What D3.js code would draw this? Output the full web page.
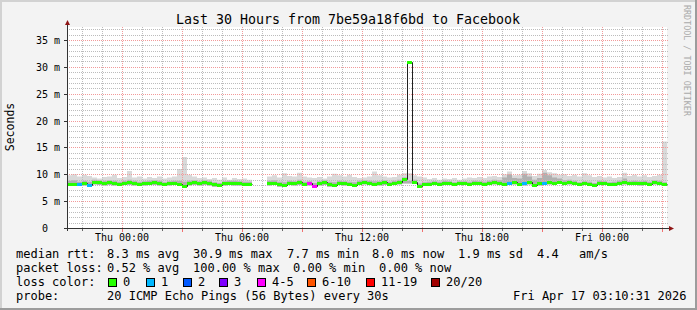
<!DOCTYPE html>
<html>
<head>
<meta charset="utf-8">
<script src="https://cdn.jsdelivr.net/npm/d3@7"></script>
<style>
body { margin: 0; background: #f3f3f3; }
svg text { font-family: "DejaVu Sans Mono", monospace; }
</style>
</head>
<body>
<div id="chart"></div>
<script>
var title = 'Last 30 Hours from 7be59a18f6bd to Facebook'
var yLabel = 'Seconds'
var watermark = 'RRDTOOL / TOBI OETIKER'
var start = new Date(2026, 3, 15, 21, 15)
var end = new Date(2026, 3, 17, 3, 15)
var stepMin = 15

// median rtt (ms), one value per 15 min, null = no data
var med = [8.2,8.2,8.1,8.3,8.0,8.6,8.5,8.4,8.5,8.3,8.2,8.4,8.5,8.4,8.2,8.3,8.4,8.5,8.4,8.1,8.3,8.4,8.2,7.9,
  8.4,8.5,8.3,8.5,8.4,8.1,8.0,8.3,8.4,8.4,8.3,8.2,8.2,null,null,null,
  8.3,8.4,8.1,8.0,8.4,8.3,8.5,8.2,8.3,7.9,8.3,8.5,8.1,8.0,8.4,8.3,8.2,8.0,8.4,8.5,8.4,8.2,8.3,8.5,8.2,8.4,8.6,9.1,30.9,
  8.6,7.9,8.1,8.2,8.3,8.2,8.4,8.3,8.1,8.3,8.3,8.2,8.4,8.3,8.2,8.4,8.5,8.3,8.2,8.4,8.5,8.1,8.3,8.5,8.0,8.3,8.4,8.5,8.4,8.6,
  8.3,8.5,8.4,8.1,8.3,8.2,8.0,8.4,8.3,8.1,8.2,8.4,8.5,8.3,8.4,8.3,8.4,8.2,8.5,8.4,8.1]

// fastest ping (ms)
var lo = [7.9,7.9,7.8,7.9,7.7,8.1,8.0,7.9,8.0,7.9,7.8,8.0,8.0,7.9,7.8,7.9,8.0,8.0,7.9,7.8,7.9,8.0,7.8,7.6,
  7.9,8.0,7.9,8.0,7.9,7.7,7.7,7.9,8.0,7.9,7.9,7.8,7.8,null,null,null,
  7.9,8.0,7.7,7.7,8.0,7.9,8.0,7.8,7.9,7.6,7.9,8.0,7.7,7.7,8.0,7.9,7.8,7.7,8.0,8.1,8.0,7.8,7.9,8.0,7.8,8.0,8.1,8.3,8.3,
  8.2,7.6,7.8,7.9,8.0,7.9,8.0,8.0,7.8,8.0,8.0,7.9,8.1,8.0,7.9,8.0,8.1,8.0,7.9,8.0,8.1,7.8,7.9,8.1,7.7,7.9,8.0,8.1,8.0,8.2,
  8.0,8.1,8.0,7.8,8.0,7.9,7.7,8.0,8.0,7.8,7.9,8.0,8.1,8.0,8.0,7.9,8.0,7.9,8.1,8.0,7.8]

// slowest ping (ms)
var hi = [9.8,10.0,9.6,9.9,9.7,9.4,9.2,9.5,9.6,9.9,9.3,9.5,10.6,9.4,9.6,9.2,9.5,9.3,9.6,9.2,9.4,9.6,11.0,13.2,
  9.9,9.6,9.3,9.4,9.1,9.3,9.0,9.4,9.0,9.3,9.1,9.2,9.0,null,null,null,
  9.6,9.8,9.4,10.2,9.7,9.6,10.3,9.6,9.4,9.3,9.5,9.2,9.6,10.1,9.8,9.6,9.9,9.5,9.3,9.4,9.6,10.5,9.8,9.6,9.4,9.5,9.9,10.2,10.2,
  9.8,9.6,9.4,9.1,9.3,9.0,9.2,9.1,9.3,9.0,9.2,9.4,9.3,9.5,9.3,9.6,9.7,9.5,10.0,10.5,9.8,9.9,10.6,10.2,9.7,10.1,10.8,10.4,10.2,9.9,
  10.0,9.7,9.9,9.6,10.2,9.8,9.5,9.7,9.4,9.6,9.3,9.5,10.3,9.7,9.9,9.6,9.8,9.5,9.7,9.9,16.1]

// upper edge of the denser smoke (ms)
var inner = [8.8,8.9,8.6,8.8,8.6,9.0,8.9,8.8,8.9,8.8,8.6,8.8,9.0,8.8,8.6,8.7,8.8,8.9,8.8,8.5,8.7,8.8,8.8,8.6,
  8.8,8.9,8.7,8.9,8.8,8.5,8.4,8.7,8.8,8.8,8.7,8.6,8.6,null,null,null,
  8.8,8.9,8.6,8.5,8.8,8.7,9.0,8.6,8.7,8.4,8.7,8.9,8.6,8.5,8.8,8.7,8.6,8.5,8.8,8.9,8.8,8.7,8.7,8.9,8.6,8.8,9.0,9.4,8.8,
  9.0,8.3,8.5,8.6,8.7,8.6,8.8,8.7,8.5,8.7,8.7,8.6,8.8,8.7,8.6,8.8,9.0,8.9,9.4,10.0,9.3,9.2,10.1,9.6,9.0,9.3,10.3,9.8,9.4,9.2,
  8.9,9.0,8.8,8.5,8.7,8.6,8.4,8.8,8.7,8.5,8.6,8.8,9.2,8.7,8.8,8.7,8.8,8.6,8.9,8.8,8.5]

// lost pings out of 20
var loss = [0,0,1,0,1,0,0,0,0,0,0,0,0,0,0,0,0,0,0,0,0,0,0,0,
  0,0,0,0,0,0,0,0,0,0,0,0,0,null,null,null,
  0,0,0,0,0,0,0,0,5,5,0,0,0,0,0,0,0,0,0,0,0,0,0,0,0,0,0,0,0,
  0,0,0,0,0,0,0,0,0,0,0,0,0,0,0,0,0,0,0,1,0,0,1,0,0,0,1,0,0,0,
  0,0,0,0,0,0,0,0,0,0,0,0,0,0,0,0,0,0,0,0,0]

var yTicks = [0, 5, 10, 15, 20, 25, 30, 35]
var yMax = 37.42

var lossLabels = ['0', '1', '2', '3', '4-5', '6-10', '11-19', '20/20']
var lossMax = [0, 1, 2, 3, 5, 10, 19, 20]
var lossColors = ['#26ff00', '#00b8ff', '#0059ff', '#7e00ff', '#ff00ff', '#ff5500', '#ff0000', '#a10000']

var rttLegend = ['median rtt:', '8.3 ms avg', '30.9 ms max', '7.7 ms min', '8.0 ms now', '1.9 ms sd', '4.4', 'am/s']
var lossLegend = ['packet loss:', '0.52 % avg', '100.00 % max', '0.00 % min', '0.00 % now']
var probeLegend = ['probe:', '20 ICMP Echo Pings (56 Bytes) every 30s', 'Fri Apr 17 03:10:31 2026']

var W = 697, H = 310
var pLeft = 67, pRight = 667, pTop = 27, pBottom = 228

var svg = d3.select('#chart').append('svg').attr('width', W).attr('height', H)

// background + 3d frame
svg.append('rect').attr('width', W).attr('height', H).attr('fill', '#f3f3f3')
svg.append('rect').attr('width', W).attr('height', 2).attr('fill', '#d2d2d2')
svg.append('rect').attr('width', 2).attr('height', H).attr('fill', '#d2d2d2')
svg.append('rect').attr('y', H - 2).attr('width', W).attr('height', 2).attr('fill', '#9c9c9c')
svg.append('rect').attr('x', W - 2).attr('width', 2).attr('height', H).attr('fill', '#9c9c9c')

svg.append('rect').attr('x', pLeft).attr('y', pTop).attr('width', pRight - pLeft).attr('height', pBottom - pTop).attr('fill', '#fff')

var x = d3.scaleTime().domain([start, end]).range([pLeft, pRight])
var y = d3.scaleLinear().domain([0, yMax]).range([pBottom, pTop])

var rows = med.map(function(m, i){
  return {
    t0: d3.timeMinute.offset(start, i * stepMin),
    t1: d3.timeMinute.offset(start, (i + 1) * stepMin),
    med: m, lo: lo[i], hi: hi[i], inner: inner[i], loss: loss[i]
  }
})

// two points per sample so areas and lines come out as steps
var pts = []
rows.forEach(function(d){
  if (d.med == null) { pts.push({gap: true}); return }
  pts.push({t: d.t0, d: d}, {t: d.t1, d: d})
})

function lossColor(n){
  for (var i = 0; i < lossMax.length; i++) if (n <= lossMax[i]) return lossColors[i]
  return lossColors[lossColors.length - 1]
}

var smoke = d3.area().defined(function(p){ return !p.gap })
  .x(function(p){ return x(p.t) })

svg.append('path')
  .attr('d', smoke.y0(function(p){ return y(p.d.lo) }).y1(function(p){ return y(p.d.hi) })(pts))
  .attr('fill', '#d9d9d9')
svg.append('path')
  .attr('d', smoke.y0(function(p){ return y(p.d.lo) }).y1(function(p){ return y(p.d.inner) })(pts))
  .attr('fill', '#b0b0b0')

// grid
var g = svg.append('g').attr('fill', 'none').attr('stroke-dasharray', '1,1')
d3.range(1, Math.floor(yMax) + 1).filter(function(v){ return v % 5 != 0 }).forEach(function(v){
  var yy = Math.round(y(v)) + 0.5
  g.append('line').attr('x1', pLeft).attr('x2', pRight + 1).attr('y1', yy).attr('y2', yy).attr('stroke', '#bcbcbc')
})
var hours = d3.timeHour.range(start, end)
hours.filter(function(h){ return h.getHours() % 3 != 0 }).forEach(function(h){
  var xx = Math.round(x(h)) + 0.5
  g.append('line').attr('x1', xx).attr('x2', xx).attr('y1', pTop).attr('y2', pBottom).attr('stroke', '#bcbcbc')
})
yTicks.forEach(function(v){
  var yy = Math.round(y(v)) + 0.5
  g.append('line').attr('x1', pLeft).attr('x2', pRight + 1).attr('y1', yy).attr('y2', yy).attr('stroke', '#f29a9a')
})
hours.filter(function(h){ return h.getHours() % 3 == 0 }).forEach(function(h){
  var xx = Math.round(x(h)) + 0.5
  g.append('line').attr('x1', xx).attr('x2', xx).attr('y1', pTop).attr('y2', pBottom).attr('stroke', '#f29a9a')
})

// median line and loss band
svg.append('path')
  .attr('d', d3.line().defined(function(p){ return !p.gap })
    .x(function(p){ return Math.round(x(p.t)) + 0.5 })
    .y(function(p){ return Math.round(y(p.d.med)) + 0.5 })(pts))
  .attr('fill', 'none').attr('stroke', '#202020').attr('stroke-width', 1)

svg.append('g').selectAll('rect')
  .data(rows.filter(function(d){ return d.med != null }))
  .join('rect')
  .attr('x', function(d){ return Math.round(x(d.t0)) })
  .attr('width', function(d){ return Math.round(x(d.t1)) - Math.round(x(d.t0)) })
  .attr('y', function(d){ return Math.round(y(d.med)) - 1 })
  .attr('height', 3)
  .attr('fill', function(d){ return lossColor(d.loss) })

// axes
var axisCol = '#333'
svg.append('line').attr('x1', pLeft - 3).attr('x2', pRight + 3).attr('y1', pBottom + 0.5).attr('y2', pBottom + 0.5).attr('stroke', axisCol)
svg.append('line').attr('x1', pLeft + 0.5).attr('x2', pLeft + 0.5).attr('y1', pBottom + 3).attr('y2', pTop - 3).attr('stroke', axisCol)
svg.append('path').attr('d', 'M' + (pRight + 2) + ',' + (pBottom - 2) + 'L' + (pRight + 2) + ',' + (pBottom + 3) + 'L' + (pRight + 7) + ',' + (pBottom + 0.5) + 'Z').attr('fill', '#8f1515')
svg.append('path').attr('d', 'M' + (pLeft - 2) + ',' + (pTop - 2) + 'L' + (pLeft + 3) + ',' + (pTop - 2) + 'L' + (pLeft + 0.5) + ',' + (pTop - 7) + 'Z').attr('fill', '#8f1515')

hours.forEach(function(h){
  var xx = Math.round(x(h)) + 0.5
  var major = h.getHours() % 3 == 0
  svg.append('line').attr('x1', xx).attr('x2', xx).attr('y1', pBottom + 1).attr('y2', pBottom + (major ? 4 : 3))
    .attr('stroke', major ? '#f07070' : '#666')
})

var fmt = d3.timeFormat('%a %H:%M')
d3.timeHour.every(6).range(start, end).forEach(function(h){
  svg.append('text').attr('x', x(h)).attr('y', 241).attr('text-anchor', 'middle')
    .attr('font-size', 10).text(fmt(h))
})

yTicks.forEach(function(v){
  var yy = Math.round(y(v)) + 0.5
  svg.append('line').attr('x1', pLeft - 3).attr('x2', pLeft).attr('y1', yy).attr('y2', yy).attr('stroke', axisCol)
  svg.append('text').attr('x', 48).attr('y', yy + 3.5).attr('text-anchor', 'end').attr('font-size', 10).text(v)
  if (v > 0) svg.append('text').attr('x', 54).attr('y', yy + 3.5).attr('font-size', 10).text('m')
})

// titles
svg.append('text').attr('x', 348).attr('y', 24).attr('text-anchor', 'middle').attr('font-size', 13.3).text(title)
svg.append('text').attr('transform', 'translate(14,127) rotate(-90)').attr('text-anchor', 'middle')
  .attr('font-size', 11.5).text(yLabel)
svg.append('text').attr('transform', 'translate(684,5) rotate(90)').attr('font-size', 8.4)
  .attr('fill', '#aaa').text(watermark)

// legend
var rttX = [16, 107, 193, 287, 372, 458, 537, 579]
var lossX = [16, 107, 193, 293, 379]
var probeX = [16, 107, 513]
var boxX = [108, 146, 183, 219, 257, 307, 366, 431]

rttLegend.forEach(function(s, i){
  svg.append('text').attr('x', rttX[i]).attr('y', 258).attr('font-size', 12).text(s)
})
lossLegend.forEach(function(s, i){
  svg.append('text').attr('x', lossX[i]).attr('y', 272).attr('font-size', 12).text(s)
})
svg.append('text').attr('x', 16).attr('y', 286).attr('font-size', 12).text('loss color:')
lossLabels.forEach(function(s, i){
  svg.append('rect').attr('x', boxX[i] + 0.5).attr('y', 278.5).attr('width', 8).attr('height', 8)
    .attr('fill', lossColors[i]).attr('stroke', '#000')
  svg.append('text').attr('x', boxX[i] + 15).attr('y', 286).attr('font-size', 12).text(s)
})
probeLegend.forEach(function(s, i){
  svg.append('text').attr('x', probeX[i]).attr('y', 300).attr('font-size', 12).text(s)
})
</script>
</body>
</html>
